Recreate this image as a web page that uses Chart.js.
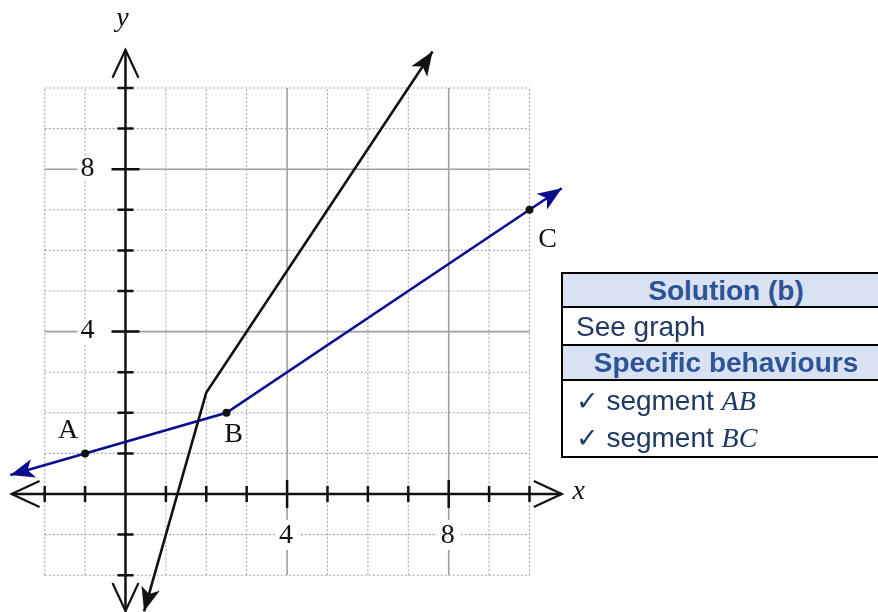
<!DOCTYPE html>
<html>
<head>
<meta charset="utf-8">
<script src="https://cdn.jsdelivr.net/npm/chart.js@4.4.0/dist/chart.umd.min.js"></script>
<style>
  body { margin: 0; background: #fff; }
  #wrap { position: relative; width: 878px; height: 612px; overflow: hidden; }
  .row { position: absolute; left: 561px; width: 340px; box-sizing: border-box;
         border-top: 2px solid #000; border-left: 2px solid #000;
         font-family: "Liberation Sans", Arial, sans-serif; font-size: 28px; color: #1F3864; }
  .head { background: #D9E2F3; color: #2F5496; font-weight: bold; text-align: center; padding-right: 12px; }
  .body { padding-left: 13px; }
  .math { font-family: "Liberation Serif", serif; font-style: italic; }
  .tick { font-family: "DejaVu Sans", sans-serif; font-size: 27px; }
</style>
</head>
<body>
<div id="wrap">
  <canvas id="graph" width="878" height="612"></canvas>
  <div class="row head" style="top:272px;height:35px;line-height:33px;">Solution (b)</div>
  <div class="row body" style="top:306px;height:39px;line-height:37px;">See graph</div>
  <div class="row head" style="top:344px;height:36px;line-height:34px;">Specific behaviours</div>
  <div class="row body" style="top:379px;height:79px;line-height:37px;border-bottom:2px solid #000;padding-top:1px;">
    <span class="tick">✓</span> segment <span class="math">AB</span><br>
    <span class="tick">✓</span> segment <span class="math">BC</span>
  </div>
</div>
<script>
// line through A, B, C (with arrow ends)
const blueX = [-2.85, -1, 2.5, 10, 10.8]
const blueY = [0.47, 1, 2, 7, 7.53]
// second (black) line
const blackX = [0.46, 2, 7.6]
const blackY = [-2.89, 2.5, 10.9]
// labelled points
const pointNames = ["A", "B", "C"]
const pointX = [-1, 2.5, 10]
const pointY = [1, 2, 7]
// grid range and labelled ticks
const gridMin = -2
const gridMax = 10
const xTickLabels = [4, 8]
const yTickLabels = [4, 8]
// axis extents (arrow tips)
const xAxisEnds = [-2.82, 10.8]
const yAxisEnds = [-2.88, 10.94]

const labelOffsets = [[-17, -23], [7, 22], [18, 30]]
const serif = '"Liberation Serif", "DejaVu Serif", serif'
const blue = "#0c0c8f"

const toPoints = (xs, ys) => xs.map((v, i) => ({ x: v, y: ys[i] }))

const chevron = (ctx, tx, ty, dx, dy) => {
    const back = 28, half = 13
    ctx.beginPath()
    ctx.moveTo(tx - dx * back - dy * half, ty - dy * back + dx * half)
    ctx.lineTo(tx, ty)
    ctx.lineTo(tx - dx * back + dy * half, ty - dy * back - dx * half)
    ctx.stroke()
}

const arrowHead = (ctx, x0, y0, x1, y1, color) => {
    const len = Math.hypot(x1 - x0, y1 - y0)
    const dx = (x1 - x0) / len, dy = (y1 - y0) / len
    const L = 24, W = 9.5, notch = 6
    ctx.fillStyle = color
    ctx.beginPath()
    ctx.moveTo(x1, y1)
    ctx.lineTo(x1 - dx * L - dy * W, y1 - dy * L + dx * W)
    ctx.lineTo(x1 - dx * (L - notch), y1 - dy * (L - notch))
    ctx.lineTo(x1 - dx * L + dy * W, y1 - dy * L - dx * W)
    ctx.closePath()
    ctx.fill()
}

const backdrop = {
    id: "backdrop",
    beforeDatasetsDraw(chart) {
        const { ctx, scales: { x, y } } = chart
        ctx.save()
        // grid
        for (let i = gridMin; i <= gridMax; i++) {
            const major = i % 4 === 0 && i !== 0
            ctx.setLineDash(major ? [] : [2, 2])
            ctx.strokeStyle = major ? "#a0a0a0" : "#a4a4a4"
            ctx.lineWidth = major ? 1.6 : 1.1
            ctx.beginPath()
            ctx.moveTo(x.getPixelForValue(i), y.getPixelForValue(gridMin))
            ctx.lineTo(x.getPixelForValue(i), y.getPixelForValue(gridMax))
            ctx.moveTo(x.getPixelForValue(gridMin), y.getPixelForValue(i))
            ctx.lineTo(x.getPixelForValue(gridMax), y.getPixelForValue(i))
            ctx.stroke()
        }
        ctx.setLineDash([])

        // tick labels on white
        const x0 = x.getPixelForValue(0), y0 = y.getPixelForValue(0)
        ctx.font = "28px " + serif
        ctx.textAlign = "center"
        ctx.textBaseline = "middle"
        yTickLabels.forEach(v => {
            const cy = y.getPixelForValue(v)
            ctx.fillStyle = "#fff"
            ctx.fillRect(x0 - 48, cy - 12, 36, 24)
            ctx.fillStyle = "#111"
            ctx.fillText(v, x0 - 38, cy - 1)
        })
        xTickLabels.forEach(v => {
            const cx = x.getPixelForValue(v)
            ctx.fillStyle = "#fff"
            ctx.fillRect(cx - 12, y0 + 26, 24, 30)
            ctx.fillStyle = "#111"
            ctx.fillText(v, cx - 1, y0 + 42)
        })

        // axes
        ctx.strokeStyle = "#111"
        ctx.lineWidth = 2.5
        const xl = x.getPixelForValue(xAxisEnds[0]), xr = x.getPixelForValue(xAxisEnds[1])
        const yb = y.getPixelForValue(yAxisEnds[0]), yt = y.getPixelForValue(yAxisEnds[1])
        ctx.beginPath()
        ctx.moveTo(xl, y0); ctx.lineTo(xr, y0)
        ctx.moveTo(x0, yb); ctx.lineTo(x0, yt)
        ctx.stroke()
        ctx.lineWidth = 2.2
        chevron(ctx, xl, y0, -1, 0)
        chevron(ctx, xr, y0, 1, 0)
        chevron(ctx, x0, yt, 0, -1)
        chevron(ctx, x0, yb, 0, 1)
        ctx.lineWidth = 2.5
        for (let i = gridMin; i <= gridMax; i++) {
            if (i === 0) continue
            const h = i % 4 === 0 ? 14 : 8
            const tx = x.getPixelForValue(i), ty = y.getPixelForValue(i)
            ctx.beginPath()
            ctx.moveTo(tx, y0 - h); ctx.lineTo(tx, y0 + h)
            ctx.moveTo(x0 - h, ty); ctx.lineTo(x0 + h, ty)
            ctx.stroke()
        }

        // axis names
        ctx.fillStyle = "#111"
        ctx.font = "italic 28px " + serif
        ctx.fillText("y", x0 - 3, 19)
        ctx.fillText("x", xr + 17, y0 - 2)
        ctx.restore()
    },
    afterDatasetsDraw(chart) {
        const { ctx, scales: { x, y } } = chart
        ctx.save()
        chart.data.datasets.forEach(ds => {
            const d = ds.data
            const p = a => [x.getPixelForValue(a.x), y.getPixelForValue(a.y)]
            const [ax, ay] = p(d[0]), [bx, by] = p(d[1])
            const [cx, cy] = p(d[d.length - 2]), [ex, ey] = p(d[d.length - 1])
            arrowHead(ctx, bx, by, ax, ay, ds.borderColor)
            arrowHead(ctx, cx, cy, ex, ey, ds.borderColor)
        })
        ctx.fillStyle = "#111"
        ctx.font = "28px " + serif
        ctx.textAlign = "center"
        ctx.textBaseline = "middle"
        pointNames.forEach((n, i) => {
            ctx.fillText(n, x.getPixelForValue(pointX[i]) + labelOffsets[i][0],
                            y.getPixelForValue(pointY[i]) + labelOffsets[i][1])
        })
        ctx.restore()
    }
}

const ctx = document.getElementById("graph").getContext("2d")
const graph = new Chart(ctx, {
    type: "scatter",
    data: {
        datasets: [{
            data: toPoints(blackX, blackY),
            showLine: true,
            borderColor: "#111",
            borderWidth: 2.6,
            pointRadius: 0,
            clip: false
        }, {
            data: toPoints(blueX, blueY),
            showLine: true,
            borderColor: blue,
            borderWidth: 2.6,
            pointRadius: blueX.map((v, i) => (i === 0 || i === blueX.length - 1) ? 0 : 4),
            pointBackgroundColor: "#111",
            pointBorderWidth: 0,
            clip: false
        }]
    },
    options: {
        responsive: false,
        animation: false,
        layout: { padding: 0 },
        plugins: { legend: { display: false }, tooltip: { enabled: false } },
        scales: {
            x: { type: "linear", min: -3.106, max: 18.626, display: false },
            y: { type: "linear", min: -2.906, max: 12.167, display: false }
        }
    },
    plugins: [backdrop]
})
</script>
</body>
</html>
